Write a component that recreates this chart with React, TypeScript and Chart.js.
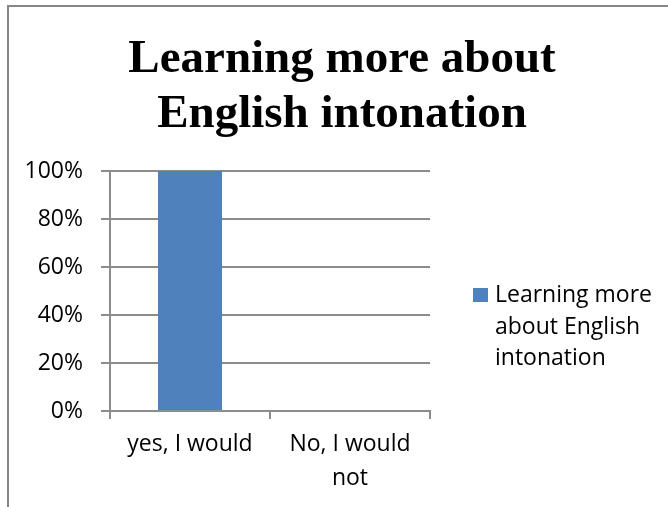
import { useEffect, useRef } from "react";
import { Chart, registerables } from "chart.js";

Chart.register(...registerables);

const titleLines = ["Learning more about", "English intonation"];
const categories = [["yes, I would"], ["No, I would", "not"]];
const seriesName = "Learning more about English intonation";
const seriesValues = [1, 0];
const yMin = 0;
const yMax = 1;
const yStep = 0.2;

const BAR_COLOR = "#4F81BD";
const GRID_COLOR = "#8c8c8c";
const TEXT_FONT = '"Open Sans", "Noto Sans", sans-serif';

const decorPlugin = {
  id: "decor",
  beforeDraw(chart: any) {
    const ctx = chart.ctx;
    ctx.save();
    ctx.fillStyle = "#ffffff";
    ctx.fillRect(0, 0, chart.width, chart.height);
    ctx.strokeStyle = "#878787";
    ctx.lineWidth = 2;
    ctx.beginPath();
    ctx.moveTo(8, chart.height + 2);
    ctx.lineTo(8, 6);
    ctx.lineTo(chart.width + 2, 6);
    ctx.stroke();
    ctx.restore();
  },
  afterDraw(chart: any) {
    const ctx = chart.ctx;
    ctx.save();
    // title
    ctx.fillStyle = "#000000";
    ctx.font = 'bold 47px "Liberation Serif", "Times New Roman", serif';
    ctx.textAlign = "center";
    ctx.textBaseline = "alphabetic";
    titleLines.forEach((line, i) => {
      ctx.fillText(line, 342, 72 + i * 55);
    });
    // legend
    const ds = chart.data.datasets[0];
    ctx.fillStyle = ds.backgroundColor;
    ctx.fillRect(473, 288, 15, 14);
    ctx.fillStyle = "#000000";
    ctx.font = `23px ${TEXT_FONT}`;
    ctx.textAlign = "left";
    const maxW = 163;
    const words = String(ds.label).split(" ");
    const lines: string[] = [];
    let cur = "";
    for (const w of words) {
      const test = cur ? cur + " " + w : w;
      if (cur && ctx.measureText(test).width > maxW) {
        lines.push(cur);
        cur = w;
      } else {
        cur = test;
      }
    }
    if (cur) lines.push(cur);
    lines.forEach((l, i) => ctx.fillText(l, 495, 302 + i * 31.5));
    ctx.restore();
  },
};

export default function App() {
  const ref = useRef<HTMLCanvasElement>(null);
  useEffect(() => {
    if (!ref.current) return;
    const chart = new Chart(ref.current, {
      type: "bar",
      data: {
        labels: categories as any,
        datasets: [
          {
            label: seriesName,
            data: seriesValues,
            backgroundColor: BAR_COLOR,
            borderWidth: 0,
            barPercentage: 0.4,
            categoryPercentage: 1,
          },
        ],
      },
      options: {
        responsive: false,
        animation: false,
        devicePixelRatio: 1,
        layout: { padding: { top: 171, right: 238, left: 0, bottom: 0 } },
        plugins: {
          legend: { display: false },
          title: { display: false },
          tooltip: { enabled: false },
        },
        scales: {
          x: {
            afterFit: (s: any) => {
              s.height = 96;
            },
            grid: {
              drawOnChartArea: false,
              drawTicks: true,
              tickLength: 8,
              color: GRID_COLOR,
              lineWidth: 2,
              offset: true,
            },
            border: { display: true, color: GRID_COLOR, width: 2 },
            ticks: {
              color: "#000000",
              font: { family: TEXT_FONT, size: 23, lineHeight: 34 / 23 },
              padding: 8,
              maxRotation: 0,
              autoSkip: false,
            },
          },
          y: {
            min: yMin,
            max: yMax,
            afterFit: (s: any) => {
              s.width = 110;
            },
            grid: {
              color: GRID_COLOR,
              lineWidth: 2,
              drawTicks: true,
              tickLength: 9,
            },
            border: { display: true, color: GRID_COLOR, width: 2 },
            ticks: {
              stepSize: yStep,
              color: "#000000",
              font: { family: TEXT_FONT, size: 23 },
              padding: 18,
              callback: (v: any) => Math.round(Number(v) * 100) + "%",
            },
          },
        },
      },
      plugins: [decorPlugin],
    });
    return () => chart.destroy();
  }, []);
  return (
    <div style={{ position: "fixed", left: 0, top: 0, width: 668, height: 507, background: "#fff" }}>
      <canvas ref={ref} width={668} height={507} style={{ width: 668, height: 507, display: "block" }} />
    </div>
  );
}
